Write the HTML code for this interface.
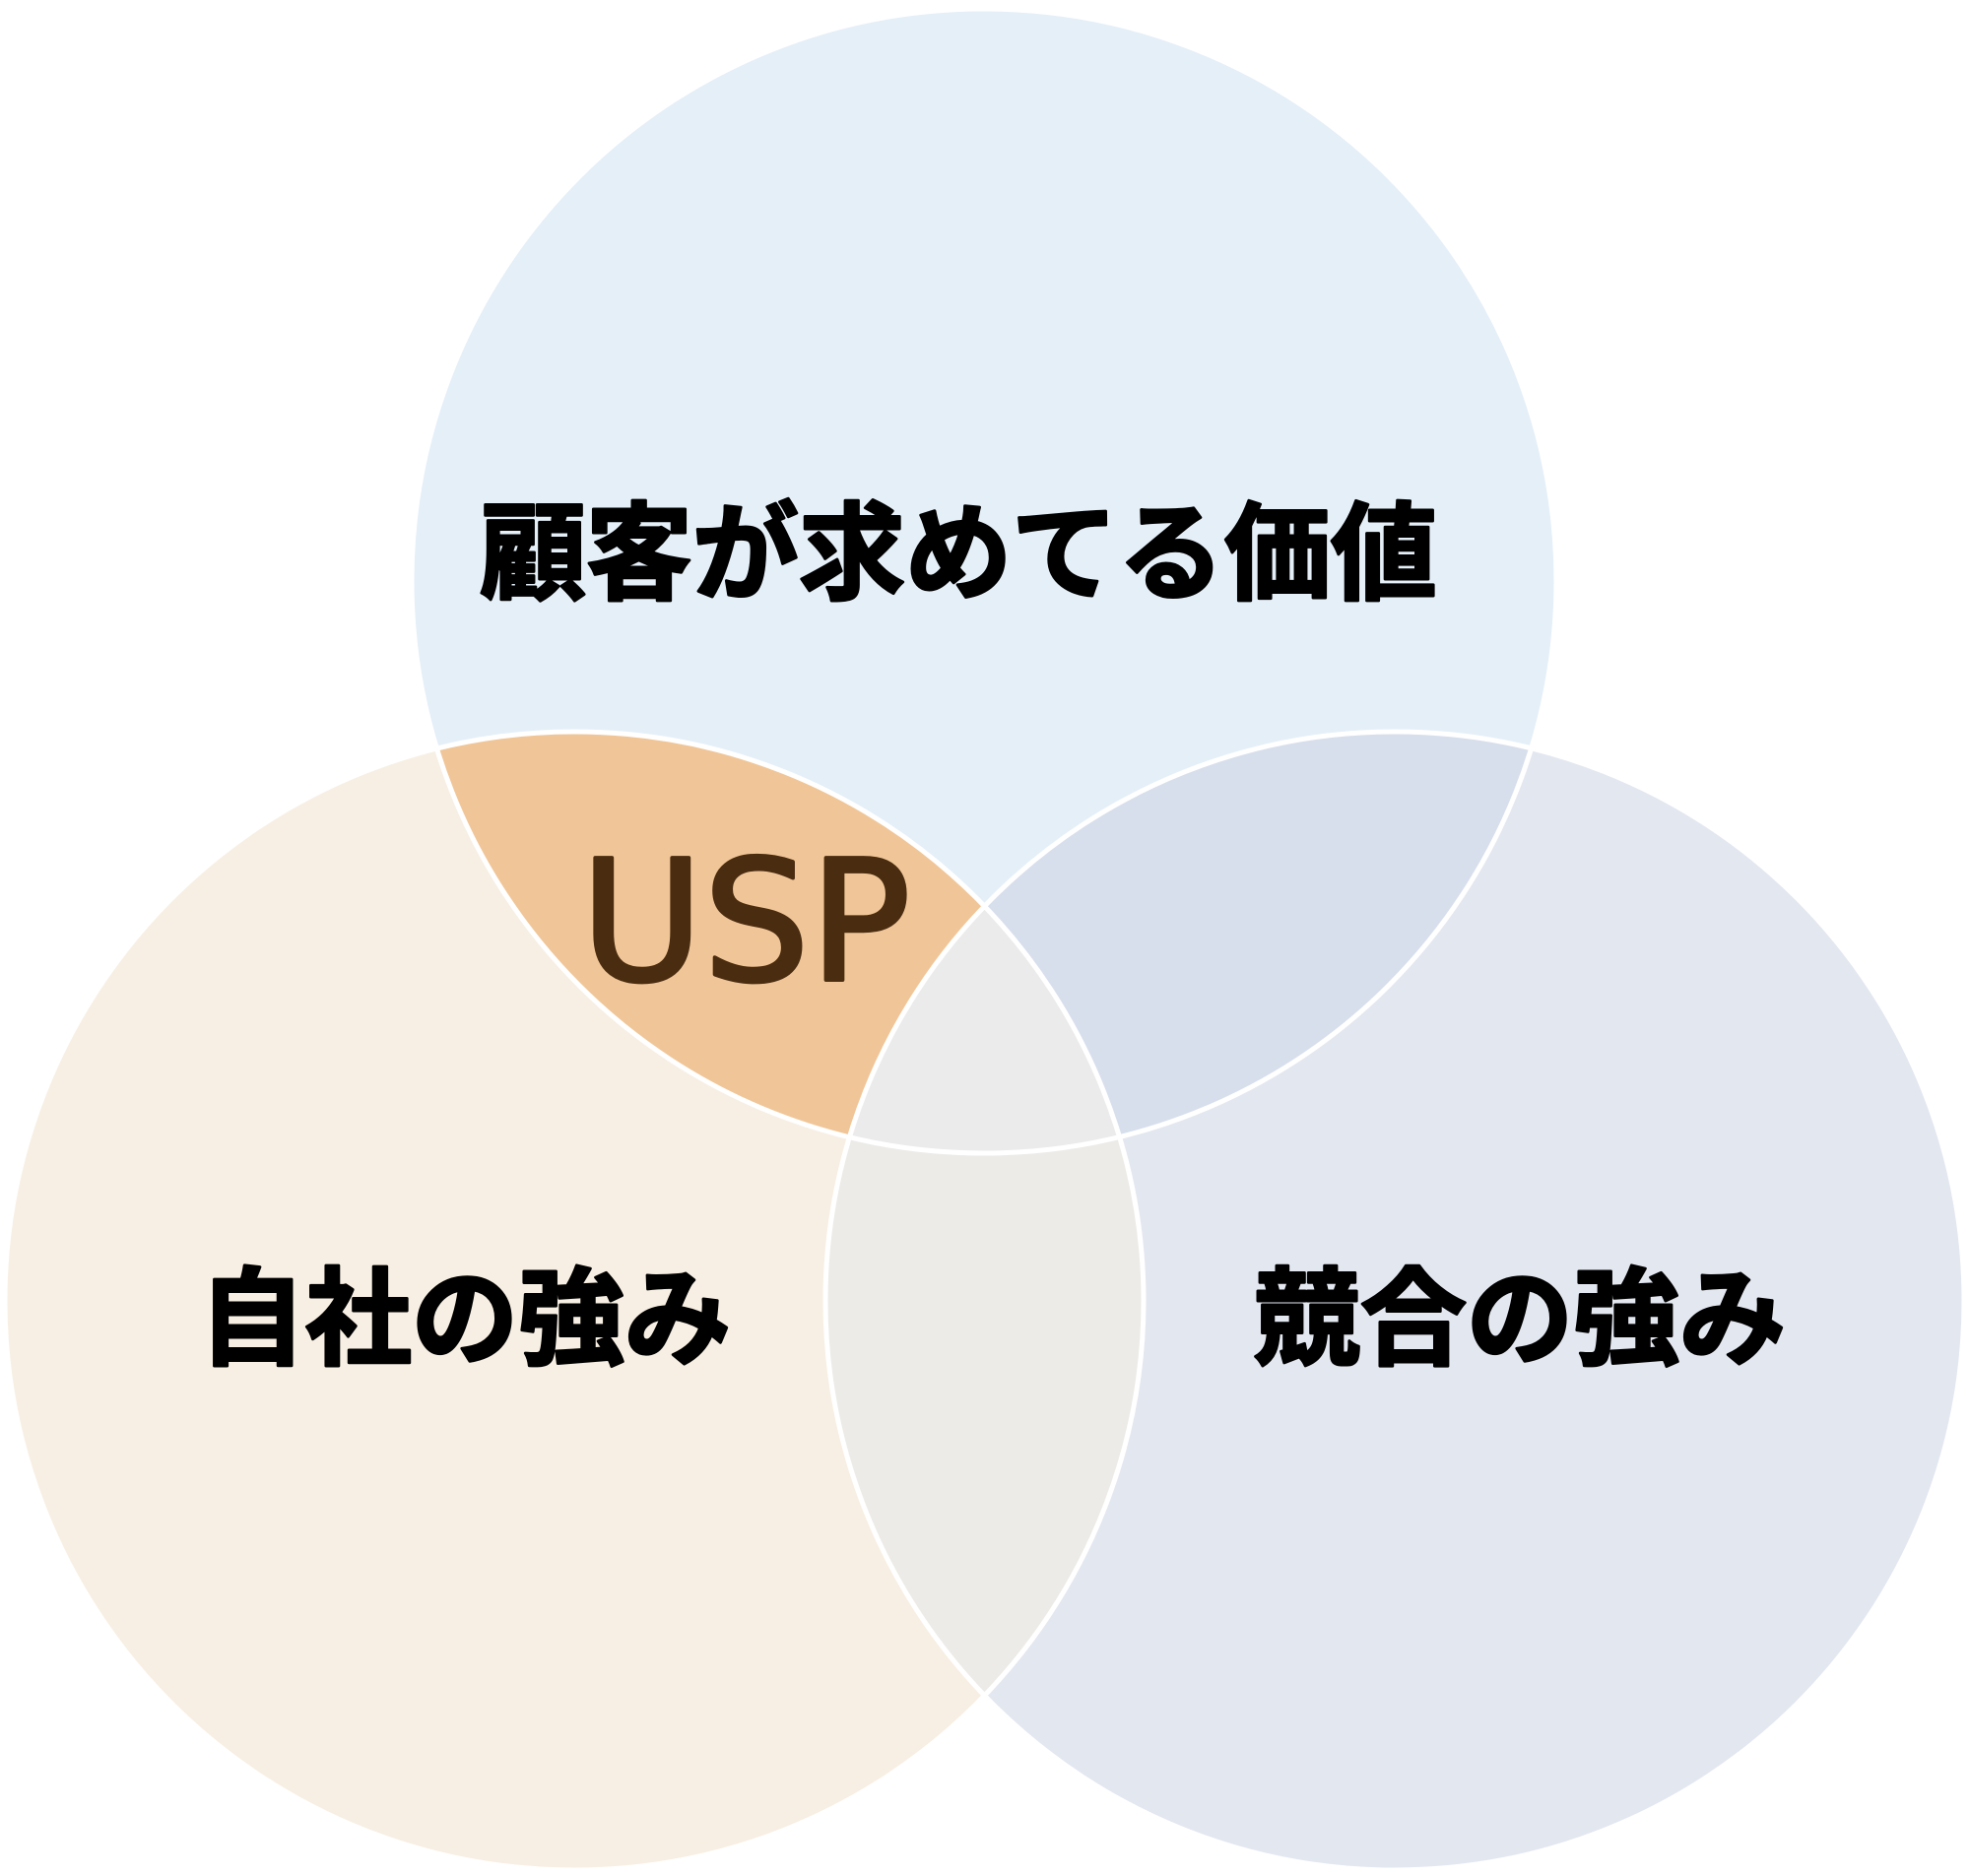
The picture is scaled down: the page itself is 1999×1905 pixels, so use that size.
<!DOCTYPE html>
<html><head><meta charset="utf-8"><style>
html,body{margin:0;padding:0;background:#fff;}
svg{display:block}
</style></head><body>
<svg width="1999" height="1905" viewBox="0 0 1999 1905" xmlns="http://www.w3.org/2000/svg">
<defs>
<clipPath id="cT"><circle cx="999" cy="590" r="581"/></clipPath>
<clipPath id="cL"><circle cx="583" cy="1321" r="578"/></clipPath>
</defs>
<circle cx="999" cy="590" r="581" fill="#e5eff8"/>
<circle cx="583" cy="1321" r="578" fill="#f7efe3"/>
<circle cx="1416" cy="1321" r="578" fill="#e3e7f0"/>
<g clip-path="url(#cT)"><circle cx="1416" cy="1321" r="578" fill="#d8dfec"/></g>
<g clip-path="url(#cT)"><circle cx="583" cy="1321" r="578" fill="#f0c698"/></g>
<g clip-path="url(#cL)"><circle cx="1416" cy="1321" r="578" fill="#ecebe7"/></g>
<g clip-path="url(#cT)"><g clip-path="url(#cL)"><circle cx="1416" cy="1321" r="578" fill="#ebebeb"/></g></g>
<g fill="none" stroke="#fff" stroke-width="5">
<circle cx="999" cy="590" r="581"/>
<circle cx="583" cy="1321" r="578"/>
<circle cx="1416" cy="1321" r="578"/>
</g>
<g font-family="'Liberation Sans','Noto Sans CJK JP',sans-serif" font-weight="bold" text-anchor="middle" fill="#000" stroke="#000" stroke-width="3" stroke-linejoin="round">
<text x="973" y="600" font-size="108">顧客が求めてる価値</text>
<text x="472" y="1377" font-size="108">自社の強み</text>
<text x="1543" y="1377" font-size="108">競合の強み</text>
</g>
<text x="757" y="995" font-family="'DejaVu Sans','Liberation Sans',sans-serif" font-size="170" text-anchor="middle" fill="#4a2c10" stroke="#4a2c10" stroke-width="4" stroke-linejoin="round">USP</text>
</svg>
</body></html>
